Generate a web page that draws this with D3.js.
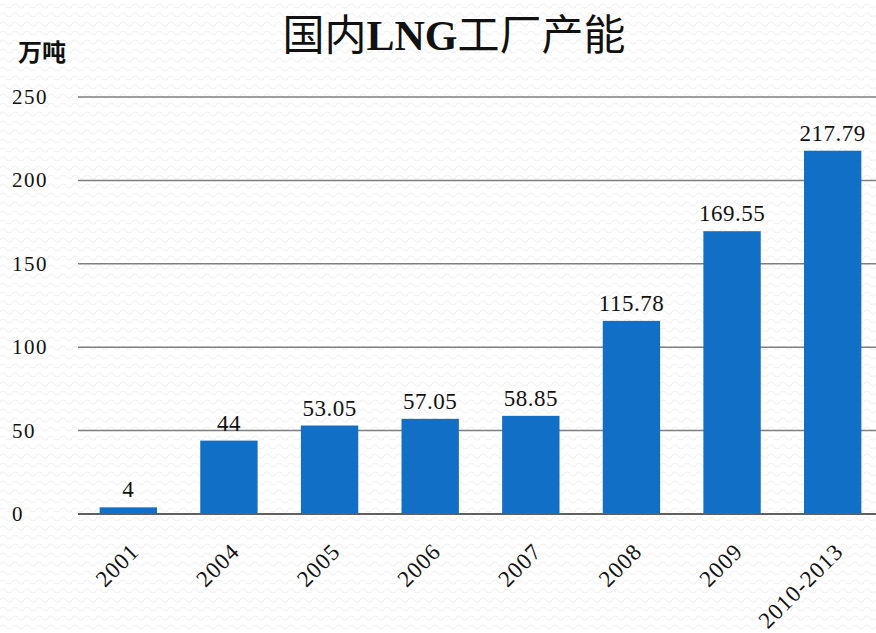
<!DOCTYPE html>
<html>
<head>
<meta charset="utf-8">
<script src="https://cdn.jsdelivr.net/npm/d3@7"></script>
<style>
  body { margin: 0; background: #fff; }
  #chart { width: 876px; height: 633px; }
  text { font-family: "Liberation Serif", "DejaVu Serif", "Noto Sans CJK SC", serif; fill: #111; }
</style>
</head>
<body>
<div id="chart"></div>
<script>
var categories = ["2001", "2004", "2005", "2006", "2007", "2008", "2009", "2010-2013"]
var values = [4, 44, 53.05, 57.05, 58.85, 115.78, 169.55, 217.79]
var yTicks = [0, 50, 100, 150, 200, 250]
var titleParts = [["国内", "normal"], ["LNG", "bold"], ["工厂产能", "normal"]]
var unit = "万吨"

var W = 876, H = 633
var svg = d3.select("#chart").append("svg")
            .attr("width", W)
            .attr("height", H)

// faint wavy background texture
var pat = svg.append("defs").append("pattern")
             .attr("id", "wave")
             .attr("width", 12)
             .attr("height", 9)
             .attr("patternUnits", "userSpaceOnUse")
pat.append("path")
   .attr("d", "M0,6 Q3,2 6,6 T12,6")
   .attr("fill", "none")
   .attr("stroke", "#f1f1f1")
   .attr("stroke-width", 1.2)

svg.append("rect").attr("width", W).attr("height", H).attr("fill", "#fff")
svg.append("rect").attr("width", W).attr("height", H).attr("fill", "url(#wave)")

var x = d3.scaleBand()
          .domain(categories)
          .range([78, 883])
          .paddingInner(0.43)
          .paddingOuter(0.215)

var y = d3.scaleLinear()
          .domain([0, 250])
          .range([514, 97])

// gridlines
svg.selectAll(".grid")
   .data(yTicks.filter(function (d) { return d > 0 }))
   .enter().append("line")
   .attr("x1", 78)
   .attr("x2", W)
   .attr("y1", function (d) { return y(d) })
   .attr("y2", function (d) { return y(d) })
   .attr("stroke", "#7f7f7f")
   .attr("stroke-width", 1.5)

// y tick labels
svg.selectAll(".ylab")
   .data(yTicks)
   .enter().append("text")
   .attr("x", 12)
   .attr("y", function (d) { return y(d) + 7 })
   .attr("font-size", 21)
   .attr("letter-spacing", 1.5)
   .text(function (d) { return d })

// bars
svg.selectAll(".bar")
   .data(values)
   .enter().append("rect")
   .attr("x", function (d, i) { return x(categories[i]) })
   .attr("y", function (d) { return y(d) })
   .attr("width", x.bandwidth())
   .attr("height", function (d) { return y(0) - y(d) })
   .attr("fill", "#126fc6")

// baseline
svg.append("line")
   .attr("x1", 78).attr("x2", W)
   .attr("y1", y(0)).attr("y2", y(0))
   .attr("stroke", "#606060")
   .attr("stroke-width", 2)

// value labels
svg.selectAll(".val")
   .data(values)
   .enter().append("text")
   .attr("x", function (d, i) { return x(categories[i]) + x.bandwidth() / 2 })
   .attr("y", function (d) { return y(d) - 10 })
   .attr("text-anchor", "middle")
   .attr("font-size", 23)
   .attr("letter-spacing", 0.5)
   .text(function (d) { return d })

// x labels, rotated
svg.selectAll(".xlab")
   .data(categories)
   .enter().append("text")
   .attr("text-anchor", "end")
   .attr("font-size", 23)
   .attr("letter-spacing", 1)
   .attr("transform", function (d) {
        return "translate(" + (x(d) + x.bandwidth() / 2 + 12) + ",553) rotate(-45)"
   })
   .text(function (d) { return d })

// title and unit
var t = svg.append("text")
   .attr("x", 454)
   .attr("y", 50)
   .attr("text-anchor", "middle")
   .attr("font-size", 42)
t.selectAll("tspan")
   .data(titleParts)
   .enter().append("tspan")
   .attr("font-weight", function (d) { return d[1] })
   .text(function (d) { return d[0] })

svg.append("text")
   .attr("x", 18)
   .attr("y", 61)
   .attr("font-size", 24)
   .attr("font-weight", "bold")
   .text(unit)
</script>
</body>
</html>
